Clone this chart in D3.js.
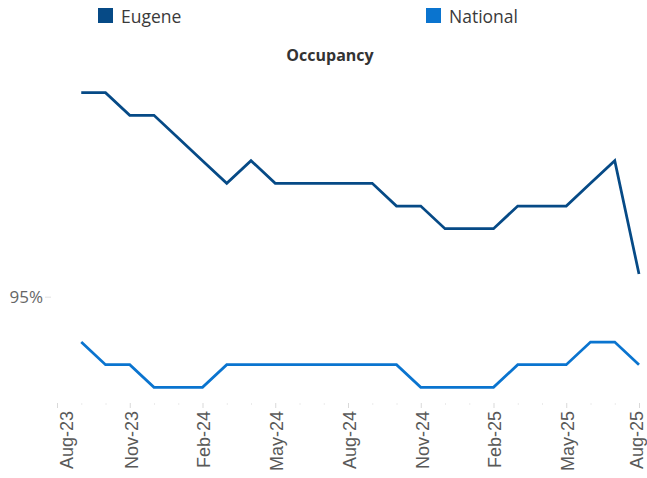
<!DOCTYPE html>
<html>
<head>
<meta charset="utf-8">
<script src="https://cdn.jsdelivr.net/npm/d3@7/dist/d3.min.js"></script>
<style>
  html, body { margin: 0; padding: 0; background: #fff; }
  svg { display: block; }
</style>
</head>
<body>
<div id="chart"></div>
<script>
// ---- Data ----
const months = ["Aug-23","Sep-23","Oct-23","Nov-23","Dec-23","Jan-24","Feb-24","Mar-24","Apr-24","May-24","Jun-24","Jul-24","Aug-24","Sep-24","Oct-24","Nov-24","Dec-24","Jan-25","Feb-25","Mar-25","Apr-25","May-25","Jun-25","Jul-25","Aug-25"];
const eugene   = [null,95.9,95.9,95.8,95.8,95.7,95.6,95.5,95.6,95.5,95.5,95.5,95.5,95.5,95.4,95.4,95.3,95.3,95.3,95.4,95.4,95.4,95.5,95.6,95.1];
const national = [null,94.8,94.7,94.7,94.6,94.6,94.6,94.7,94.7,94.7,94.7,94.7,94.7,94.7,94.7,94.6,94.6,94.6,94.6,94.7,94.7,94.7,94.8,94.8,94.7];
const tickLabels = ["Aug-23","Nov-23","Feb-24","May-24","Aug-24","Nov-24","Feb-25","May-25","Aug-25"];
const yTicks = [95];
const seriesNames = ["Eugene","National"];
const seriesColors = ["#064a86","#0a74cf"];
const title = "Occupancy";

// ---- Layout ----
const W = 647, H = 478;
const plot = { left: 57, right: 639, top: 70, bottom: 410, axisY: 403 };

const svg = d3.select("#chart").append("svg").attr("width", W).attr("height", H);

const x = d3.scalePoint().domain(months).range([plot.left, plot.right]);
const y = d3.scaleLinear().domain([94.5, 96]).range([plot.bottom, plot.top]);

// Title
svg.append("text")
  .attr("x", 330).attr("y", 61)
  .attr("text-anchor", "middle")
  .attr("font-family", "'Open Sans', sans-serif")
  .attr("font-weight", "bold")
  .attr("font-size", 16)
  .attr("fill", "#333")
  .text(title);

// Legend
const legendX = [98, 426];
seriesNames.forEach((name, i) => {
  const g = svg.append("g").attr("transform", `translate(${legendX[i]},8)`);
  g.append("rect").attr("width", 15).attr("height", 15).attr("fill", seriesColors[i]);
  g.append("text")
    .attr("x", 23).attr("y", 14.5)
    .attr("font-family", "'Open Sans', sans-serif")
    .attr("font-size", 17.5)
    .attr("fill", "#3a3a3a")
    .text(name);
});

// Y axis (only tick label, no line)
const yAxis = d3.axisLeft(y).tickValues(yTicks).tickFormat(d => d + "%").tickSize(6).tickPadding(2);
const yg = svg.append("g").attr("transform", `translate(51,0)`).call(yAxis);
yg.select(".domain").remove();
yg.selectAll(".tick line").attr("stroke", "#e0e0e0");
yg.selectAll(".tick text")
  .attr("font-family", "'Open Sans', sans-serif")
  .attr("font-size", 17)
  .attr("fill", "#666");

// X axis
const xAxis = d3.axisBottom(x).tickValues(months).tickSize(0).tickFormat(d => tickLabels.includes(d) ? d : "");
const xg = svg.append("g").attr("transform", `translate(0,${plot.axisY})`).call(xAxis);
xg.select(".domain").remove();
xg.selectAll(".tick").append("line")
  .attr("y1", 0)
  .attr("y2", d => tickLabels.includes(d) ? 5 : 2)
  .attr("stroke", d => tickLabels.includes(d) ? "#d9d9d9" : "#ececec");
const lastIdx = months.length - 1;
xg.selectAll(".tick text")
  .attr("font-family", "'Liberation Sans', Arial, sans-serif")
  .attr("font-size", 18)
  .attr("fill", "#595959")
  .attr("text-anchor", "end")
  .attr("transform", (d, i) => `translate(${i === 0 ? 9 : (i === lastIdx ? -3 : 1)},0) rotate(-90)`)
  .attr("x", -8)
  .attr("y", 0)
  .attr("dy", "0.36em");

// Lines
const line = d3.line()
  .defined(d => d.v != null)
  .x(d => x(d.m))
  .y(d => y(d.v));

[eugene, national].forEach((vals, i) => {
  const data = months.map((m, j) => ({ m, v: vals[j] }));
  svg.append("path")
    .datum(data)
    .attr("fill", "none")
    .attr("stroke", seriesColors[i])
    .attr("stroke-width", 2.75)
    .attr("stroke-linejoin", "miter")
    .attr("d", line);
});
</script>
</body>
</html>
